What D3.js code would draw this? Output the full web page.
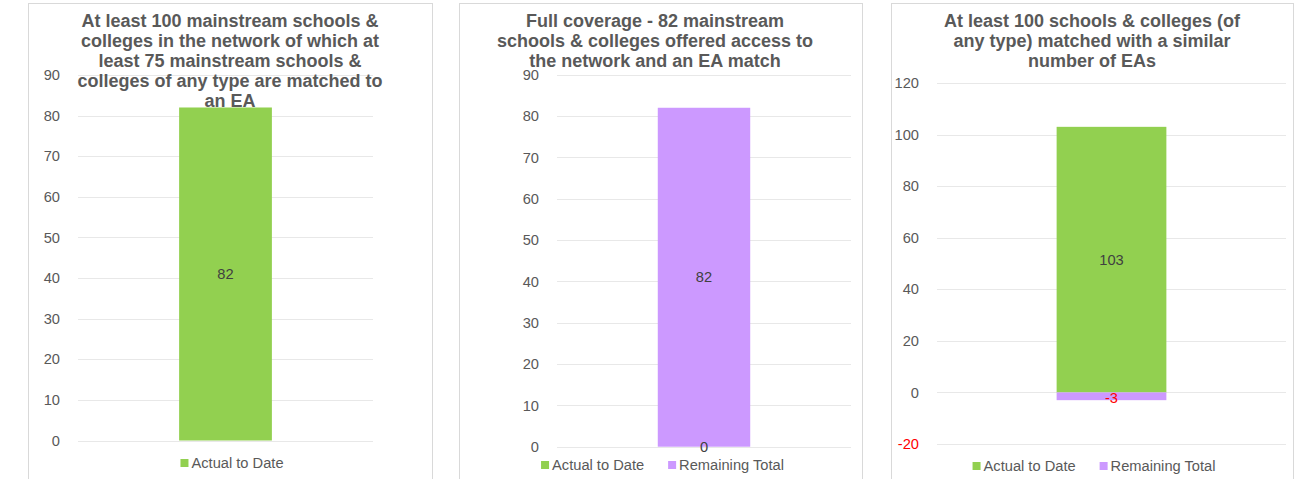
<!DOCTYPE html>
<html>
<head>
<meta charset="utf-8">
<title>EA network progress</title>
<script src="https://d3js.org/d3.v7.min.js"></script>
<style>
  body { margin: 0; background: #fff; }
  svg { display: block; font-family: "Liberation Sans", Arial, sans-serif; }
</style>
</head>
<body>
<script>
// chart data, one entry per panel
const titles = [
  "At least 100 mainstream schools &\ncolleges in the network of which at\nleast 75 mainstream schools &\ncolleges of any type are matched to\nan EA",
  "Full coverage - 82 mainstream\nschools & colleges offered access to\nthe network and an EA match",
  "At least 100 schools & colleges (of\nany type) matched with a similar\nnumber of EAs"
];
const seriesNames = ["Actual to Date", "Remaining Total"];
const actualToDate = [82, 0, 103];
const remainingTotal = [null, 82, -3];
const legendSeries = [["Actual to Date"], ["Actual to Date", "Remaining Total"], ["Actual to Date", "Remaining Total"]];
const yTicks = [
  [0, 10, 20, 30, 40, 50, 60, 70, 80, 90],
  [0, 10, 20, 30, 40, 50, 60, 70, 80, 90],
  [-20, 0, 20, 40, 60, 80, 100, 120]
];

const colors = {"Actual to Date": "#92d050", "Remaining Total": "#cc99ff"};

// layout of each panel (pixels)
const panels = [
  {x0: 28, x1: 432, gx0: 78, gx1: 373, yTop: 75, yBot: 440.5, legendY: 463, titleX: 230},
  {x0: 459, x1: 862, gx0: 557, gx1: 851, yTop: 74.7, yBot: 446.7, legendY: 465, titleX: 655},
  {x0: 891, x1: 1293, gx0: 937, gx1: 1286, yTop: 83, yBot: 444, legendY: 466, titleX: 1092}
];

const svg = d3.select("body").append("svg")
  .attr("width", 1309)
  .attr("height", 479);

panels.forEach((p, i) => {
  const g = svg.append("g");

  // panel frame
  g.append("rect")
    .attr("x", p.x0 + 0.5).attr("y", 3.5)
    .attr("width", p.x1 - p.x0).attr("height", 478)
    .attr("fill", "#fff").attr("stroke", "#d9d9d9");

  const ticks = yTicks[i];
  const y = d3.scaleLinear()
    .domain([ticks[0], ticks[ticks.length - 1]])
    .range([p.yBot, p.yTop]);
  const x = d3.scaleBand().domain(["cat"]).range([p.gx0, p.gx1])
    .paddingInner(0).paddingOuter(1.09);

  // gridlines
  g.selectAll(".grid").data(ticks).enter().append("line")
    .attr("x1", p.gx0).attr("x2", p.gx1)
    .attr("y1", d => Math.round(y(d)) + 0.5).attr("y2", d => Math.round(y(d)) + 0.5)
    .attr("stroke", "#e8e8e8");

  // y axis labels (plain hyphen for negatives, like the original)
  const axis = d3.axisLeft(y).tickValues(ticks).tickSize(0).tickPadding(0)
    .tickFormat(d => String(d));
  const ax = g.append("g")
    .attr("transform", "translate(" + (p.gx0 - 18) + ",0)")
    .call(axis);
  ax.select(".domain").remove();
  ax.selectAll("text")
    .attr("font-size", "14.67px")
    .attr("font-family", "Liberation Sans, Arial, sans-serif")
    .attr("fill", d => d < 0 ? "#ff0000" : "#595959");

  // stacked bar segments
  const segs = [];
  let pos = 0, neg = 0;
  [actualToDate[i], remainingTotal[i]].forEach((v, k) => {
    if (v === null) return;
    let a, b;
    if (v >= 0) { a = pos; b = pos + v; pos = b; }
    else { a = neg; b = neg + v; neg = b; }
    segs.push({name: seriesNames[k], value: v, a: a, b: b});
  });

  g.selectAll(".bar").data(segs).enter().append("rect")
    .attr("x", x("cat"))
    .attr("width", x.bandwidth())
    .attr("y", d => y(Math.max(d.a, d.b)))
    .attr("height", d => Math.abs(y(d.a) - y(d.b)))
    .attr("fill", d => colors[d.name]);

  g.selectAll(".lbl").data(segs).enter().append("text")
    .attr("x", x("cat") + x.bandwidth() / 2)
    .attr("y", d => d.value < 0 ? y(d.a) + 5 : y((d.a + d.b) / 2))
    .attr("dy", "0.35em")
    .attr("text-anchor", "middle")
    .attr("font-size", "14.67px")
    .attr("fill", d => d.value < 0 ? "#ff0000" : "#404040")
    .text(d => d.value);

  // title
  const cx = (p.x0 + p.x1) / 2;
  const t = g.append("text")
    .attr("text-anchor", "middle")
    .attr("font-size", "18px")
    .attr("font-weight", "bold")
    .attr("fill", "#595959");
  titles[i].split("\n").forEach((line, j) => {
    t.append("tspan").attr("x", p.titleX).attr("y", 27 + j * 20).text(line);
  });

  // legend
  const lg = g.append("g");
  let lx = 0;
  legendSeries[i].forEach((name, k) => {
    const item = lg.append("g").attr("transform", "translate(" + lx + ",0)");
    item.append("rect").attr("x", 0).attr("y", -4).attr("width", 8).attr("height", 8)
      .attr("fill", colors[name]);
    const txt = item.append("text").attr("x", 11).attr("dy", "0.35em")
      .attr("font-size", "14.67px").attr("fill", "#595959").text(name);
    lx += 11 + txt.node().getComputedTextLength() + 24;
  });
  const lw = lx - 24;
  lg.attr("transform", "translate(" + (cx + 2 - lw / 2) + "," + p.legendY + ")");
});
</script>
</body>
</html>
